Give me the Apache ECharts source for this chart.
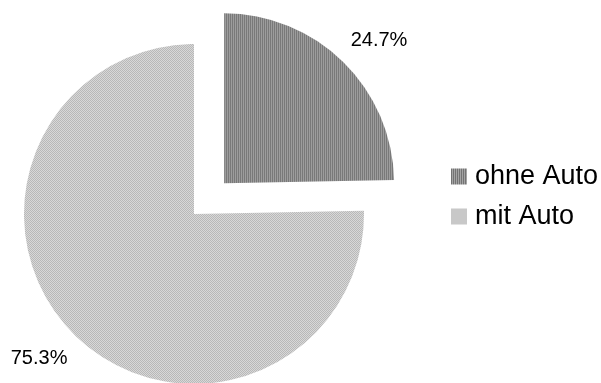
<!DOCTYPE html>
<html>
<head>
<meta charset="utf-8">
<script src="https://cdn.jsdelivr.net/npm/echarts@6/dist/echarts.min.js"></script>
<style>
html,body{margin:0;padding:0;background:#fff;}
#c{width:601px;height:383px;}
</style>
</head>
<body>
<div id="c"></div>
<script>
var categories = ['ohne Auto', 'mit Auto'];
var values = [24.7, 75.3];

function stripePattern() {
  var c = document.createElement('canvas');
  c.width = 2; c.height = 2;
  var g = c.getContext('2d');
  g.fillStyle = '#a4a4a4'; g.fillRect(0, 0, 2, 2);
  g.fillStyle = '#737373'; g.fillRect(0, 0, 1, 2);
  return c;
}
function checkPattern() {
  var c = document.createElement('canvas');
  c.width = 2; c.height = 2;
  var g = c.getContext('2d');
  g.fillStyle = '#d8d8d8'; g.fillRect(0, 0, 2, 2);
  g.fillStyle = '#b8b8b8'; g.fillRect(0, 0, 1, 1); g.fillRect(1, 1, 1, 1);
  return c;
}
var fills = [
  {image: stripePattern(), repeat: 'repeat'},
  {image: checkPattern(), repeat: 'repeat'}
];
var labelShift = [[-8, -11], [8, 12]];

var chart = echarts.init(document.getElementById('c'), null, {renderer: 'canvas'});
chart.setOption({
  animation: false,
  backgroundColor: '#fff',
  legend: {
    orient: 'vertical',
    left: 446,
    top: 158,
    itemWidth: 16,
    itemHeight: 16,
    itemGap: 13,
    icon: 'rect',
    textStyle: {fontFamily: 'Liberation Sans', fontSize: 27, lineHeight: 27, color: '#000', padding: [0, 0, 0, 3]},
    data: categories
  },
  series: [{
    type: 'pie',
    center: [194, 214],
    radius: 170,
    startAngle: 90,
    clockwise: true,
    percentPrecision: 1,
    selectedMode: 'single',
    selectedOffset: 43,
    avoidLabelOverlap: false,
    label: {
      show: true,
      position: 'outside',
      formatter: '{d}%',
      fontFamily: 'Liberation Sans',
      fontSize: 20,
      color: '#000'
    },
    labelLine: {show: false, length: 15, length2: 0},
    labelLayout: function (p) {
      var s = labelShift[p.dataIndex];
      return {dx: s[0], dy: s[1]};
    },
    emphasis: {disabled: true},
    data: categories.map(function (n, i) {
      return {
        name: n,
        value: values[i],
        selected: i === 0,
        itemStyle: {color: fills[i]},
        select: {itemStyle: {color: fills[i]}}
      };
    })
  }]
});
</script>
</body>
</html>
